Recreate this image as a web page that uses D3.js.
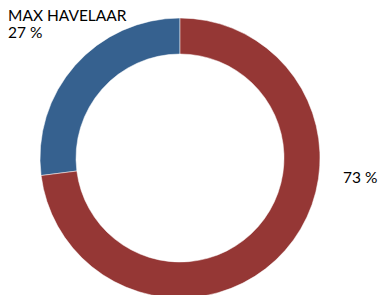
<!DOCTYPE html>
<html>
<head>
<meta charset="utf-8">
<script src="https://cdnjs.cloudflare.com/ajax/libs/d3/7.8.5/d3.min.js"></script>
<style>
body { margin: 0; background: #fff; }
svg text { font-family: Lato, sans-serif; fill: #000; }
</style>
</head>
<body>
<svg id="chart" width="380" height="295"></svg>
<script>
var labels = ["MAX HAVELAAR", ""];
var values = [27, 73];
var colors = ["#36618f", "#953735"];

var svg = d3.select("#chart");
var cx = 180, cy = 158;

var pie = d3.pie().sort(null).value(function(d) { return d; })
  .startAngle(-values[0] / 100 * 2 * Math.PI)
  .endAngle(2 * Math.PI - values[0] / 100 * 2 * Math.PI);
var arc = d3.arc().innerRadius(104).outerRadius(140);

var g = svg.append("g").attr("transform", "translate(" + cx + "," + cy + ")");
g.selectAll("path")
  .data(pie(values))
  .enter()
  .append("path")
  .attr("d", arc)
  .attr("fill", function(d, i) { return colors[i]; })
  .attr("stroke", "#fff")
  .attr("stroke-width", 0.5);

// labels
var t = svg.append("text").attr("x", 8).attr("y", 21).attr("font-size", 15.5);
t.append("tspan").attr("x", 8).text(labels[0]);
t.append("tspan").attr("x", 8).attr("dy", 17).text(values[0] + " %");

svg.append("text").attr("x", 343).attr("y", 183).attr("font-size", 15.5)
  .text(values[1] + " %");
</script>
</body>
</html>
